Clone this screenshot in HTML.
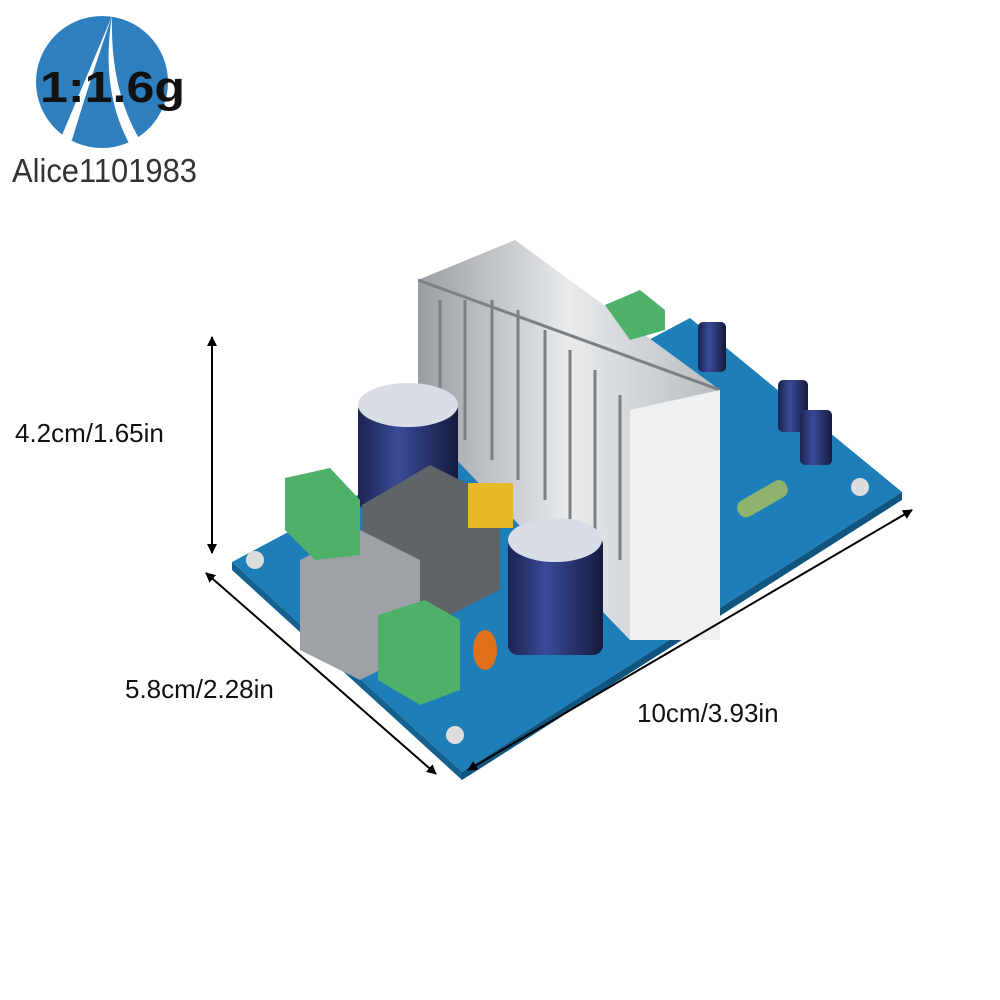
<!DOCTYPE html>
<html><head><meta charset="utf-8"><style>
html,body{margin:0;padding:0;background:#fff;width:1000px;height:1000px;overflow:hidden}
svg{display:block}
text{font-family:"Liberation Sans",sans-serif}
</style></head><body>
<svg width="1000" height="1000" viewBox="0 0 1000 1000" xmlns="http://www.w3.org/2000/svg">
<defs>
<marker id="ah" markerWidth="10" markerHeight="10" refX="9" refY="5" orient="auto-start-reverse" markerUnits="userSpaceOnUse"><path d="M0,0 L10,5 L0,10 z" fill="#000"/></marker>
<linearGradient id="hs" x1="0" y1="0" x2="1" y2="0"><stop offset="0" stop-color="#9a9ea3"/><stop offset="0.5" stop-color="#e8eaec"/><stop offset="1" stop-color="#b8bcc0"/></linearGradient>
<linearGradient id="cap" x1="0" y1="0" x2="1" y2="0"><stop offset="0" stop-color="#1c2450"/><stop offset="0.4" stop-color="#3a4a9a"/><stop offset="1" stop-color="#151a3c"/></linearGradient>
</defs>
<!-- logo -->
<circle cx="102" cy="82" r="66" fill="#2f7fbf"/>
<path d="M112,16 L60,140 L72,140 Q90,80 112,16 Z" fill="#fff"/>
<path d="M112,16 Q100,90 130,145 L140,140 Q110,90 112,16 Z" fill="#fff"/>
<text x="40" y="102" font-size="44" font-weight="bold" fill="#111" textLength="145" lengthAdjust="spacingAndGlyphs">1:1.6g</text>
<text x="12" y="182" font-size="33" fill="#333" textLength="185" lengthAdjust="spacingAndGlyphs">Alice1101983</text>
<!-- PCB -->
<polygon points="232,562 462,772 902,492 690,318" fill="#1e7fb8"/>
<polygon points="232,562 462,772 462,780 232,570" fill="#14608f"/>
<polygon points="462,772 902,492 902,500 462,780" fill="#0f5580"/>
<!-- heatsink -->
<polygon points="418,280 515,240 720,390 720,640 630,640 418,420" fill="url(#hs)"/>
<g stroke="#7c8086" stroke-width="3" fill="none">
<path d="M440,300 L440,420"/><path d="M465,300 L465,440"/><path d="M492,300 L492,460"/><path d="M518,310 L518,480"/><path d="M545,330 L545,500"/><path d="M570,350 L570,520"/><path d="M595,370 L595,540"/><path d="M620,395 L620,560"/>
<path d="M418,280 L720,390"/>
</g>
<polygon points="630,410 720,390 720,640 630,640" fill="#eef0f2"/>
<!-- capacitors -->
<rect x="358" y="400" width="100" height="110" rx="10" fill="url(#cap)"/>
<ellipse cx="408" cy="405" rx="50" ry="22" fill="#d8dde6"/>
<rect x="508" y="535" width="95" height="120" rx="10" fill="url(#cap)"/>
<ellipse cx="555" cy="540" rx="47" ry="22" fill="#d8dde6"/>
<rect x="698" y="322" width="28" height="50" rx="5" fill="url(#cap)"/>
<rect x="778" y="380" width="30" height="52" rx="5" fill="url(#cap)"/>
<rect x="800" y="410" width="32" height="55" rx="5" fill="url(#cap)"/>
<!-- transformers -->
<polygon points="362,505 430,465 500,500 500,590 430,625 362,590" fill="#5f6468"/>
<polygon points="300,560 360,530 420,560 420,650 360,680 300,650" fill="#9ea2a6"/>
<rect x="468" y="483" width="45" height="45" fill="#e8b828"/>
<!-- terminals -->
<polygon points="285,478 330,468 360,500 360,555 315,560 285,530" fill="#4fb06a"/>
<polygon points="378,615 425,600 460,620 460,690 420,705 378,680" fill="#4fb06a"/>
<polygon points="605,305 640,290 665,310 665,330 630,340" fill="#4fb06a"/>
<rect x="735" y="490" width="55" height="18" rx="8" fill="#8db36c" transform="rotate(-30 762 499)"/>
<ellipse cx="485" cy="650" rx="12" ry="20" fill="#e0701a"/>
<!-- mounting holes -->
<circle cx="255" cy="560" r="9" fill="#ddd"/><circle cx="455" cy="735" r="9" fill="#ddd"/><circle cx="860" cy="487" r="9" fill="#ddd"/>
<!-- dimension arrows -->
<line x1="212" y1="337" x2="212" y2="553" stroke="#000" stroke-width="2" marker-start="url(#ah)" marker-end="url(#ah)"/>
<line x1="206" y1="573" x2="436" y2="774" stroke="#000" stroke-width="2" marker-start="url(#ah)" marker-end="url(#ah)"/>
<line x1="468" y1="770" x2="912" y2="510" stroke="#000" stroke-width="2" marker-start="url(#ah)" marker-end="url(#ah)"/>
<text x="15" y="442" font-size="26" fill="#111">4.2cm/1.65in</text>
<text x="125" y="698" font-size="26" fill="#111">5.8cm/2.28in</text>
<text x="637" y="722" font-size="26" fill="#111">10cm/3.93in</text>
</svg>
</body></html>
